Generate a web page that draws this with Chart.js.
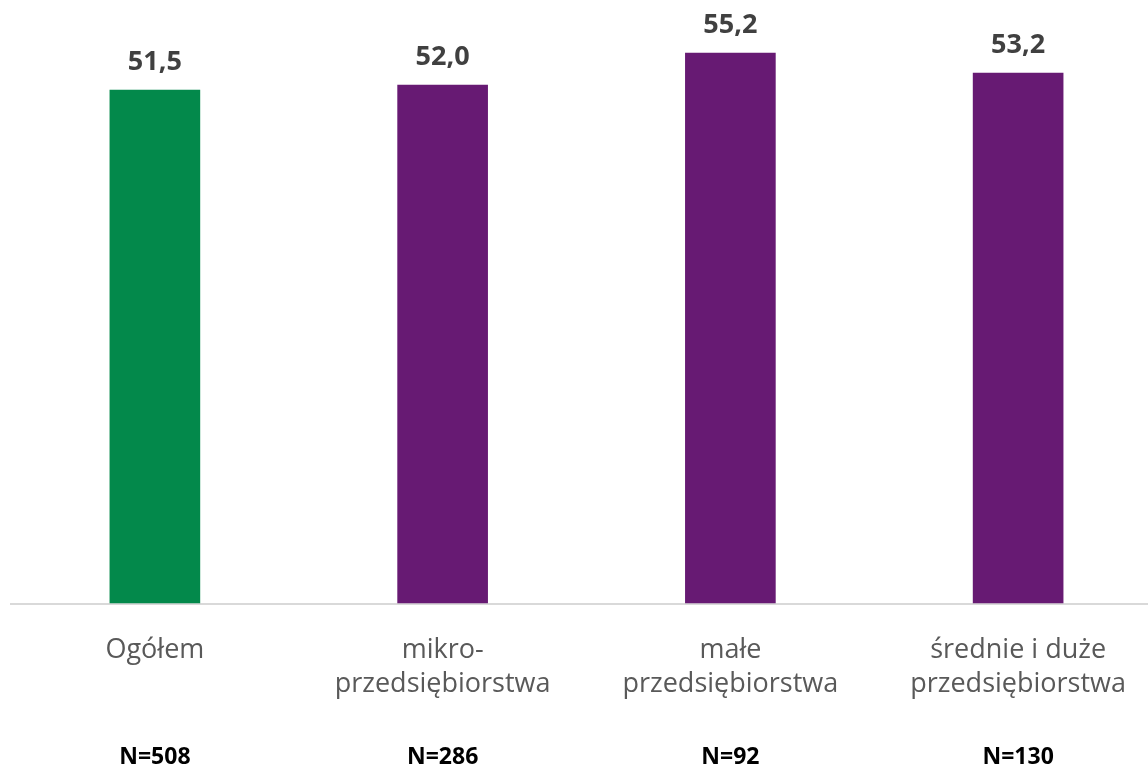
<!DOCTYPE html>
<html lang="pl">
  <head>
    <meta charset="UTF-8" />
    <title>Wykres</title>
    <style>
      html, body {
        margin: 0;
        padding: 0;
        background: #ffffff;
        overflow: hidden;
      }
      .wrap {
        position: relative;
        width: 1162px;
        height: 771px;
      }
    </style>
    <script src="https://cdn.jsdelivr.net/npm/chart.js"></script>
  </head>
  <body>
    <div class="wrap">
      <canvas id="chart"></canvas>
    </div>
    <script>
      const categories = [
        ["Ogółem"],
        ["mikro-", "przedsiębiorstwa"],
        ["małe", "przedsiębiorstwa"],
        ["średnie i duże", "przedsiębiorstwa"],
      ];
      const values = [51.5, 52.0, 55.2, 53.2];
      const sampleSizes = ["N=508", "N=286", "N=92", "N=130"];
      const barColors = ["#03894b", "#671a73", "#671a73", "#671a73"];

      const fontFamily = '"Open Sans", "Noto Sans", sans-serif';

      // value labels above the bars
      const valueLabels = {
        id: "valueLabels",
        afterDatasetsDraw(chart) {
          const ctx = chart.ctx;
          const meta = chart.getDatasetMeta(0);
          ctx.save();
          ctx.font = "bold 27px " + fontFamily;
          ctx.fillStyle = "#404040";
          ctx.textAlign = "center";
          ctx.textBaseline = "bottom";
          meta.data.forEach((bar, i) => {
            ctx.fillText(values[i].toFixed(1).replace(".", ","), bar.x, bar.y - 14);
          });
          ctx.restore();
        },
      };

      // N= row under the category labels
      const sampleRow = {
        id: "sampleRow",
        afterDraw(chart) {
          const ctx = chart.ctx;
          const x = chart.scales.x;
          ctx.save();
          ctx.font = "bold 23px " + fontFamily;
          ctx.fillStyle = "#000000";
          ctx.textAlign = "center";
          ctx.textBaseline = "middle";
          sampleSizes.forEach((s, i) => {
            ctx.fillText(s, x.getPixelForValue(i), 757);
          });
          ctx.restore();
        },
      };

      new Chart(document.getElementById("chart"), {
        type: "bar",
        data: {
          labels: categories,
          datasets: [
            {
              data: values,
              backgroundColor: barColors,
              barPercentage: 0.63,
              categoryPercentage: 0.5,
            },
          ],
        },
        options: {
          responsive: true,
          maintainAspectRatio: false,
          animation: false,
          layout: {
            padding: { left: 11, right: 0, top: 0, bottom: 40 },
          },
          plugins: {
            legend: { display: false },
            tooltip: { enabled: false },
          },
          scales: {
            x: {
              grid: { display: false, drawTicks: false },
              border: { display: true, color: "#d9d9d9", width: 2 },
              ticks: {
                color: "#595959",
                font: { family: fontFamily, size: 27, lineHeight: 1.25 },
                padding: 30,
                maxRotation: 0,
                autoSkip: false,
              },
            },
            y: {
              display: false,
              min: 0,
              max: 60.5,
            },
          },
        },
        plugins: [valueLabels, sampleRow],
      });
    </script>
  </body>
</html>
